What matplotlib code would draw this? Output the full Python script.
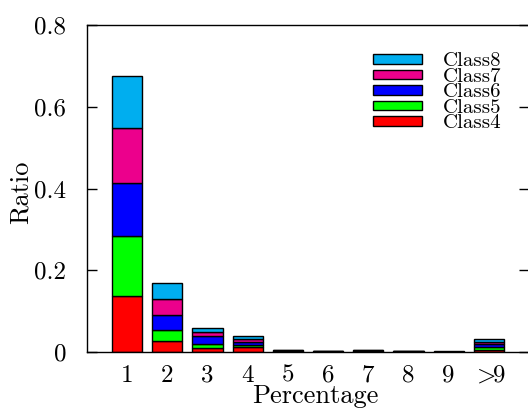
import numpy as np
import matplotlib
matplotlib.use("Agg")
import matplotlib.pyplot as plt
from matplotlib.ticker import FixedLocator, FixedFormatter

plt.rcParams['font.family'] = ['cmr10']
plt.rcParams['mathtext.fontset'] = 'cm'
plt.rcParams['axes.formatter.use_mathtext'] = True

# Percentage buckets on the x axis
categories = ['1', '2', '3', '4', '5', '6', '7', '8', '9', r'$>\!\!9$']

# Ratio contributed by each class within each bucket (stacked bottom to top)
class4 = [0.137, 0.028, 0.009, 0.012, 0.0012, 0.0006, 0.0010, 0.0006, 0.0003, 0.006]
class5 = [0.148, 0.025, 0.010, 0.006, 0.0012, 0.0006, 0.0010, 0.0006, 0.0003, 0.006]
class6 = [0.128, 0.037, 0.020, 0.007, 0.0012, 0.0006, 0.0010, 0.0006, 0.0003, 0.007]
class7 = [0.136, 0.040, 0.010, 0.006, 0.0012, 0.0006, 0.0010, 0.0006, 0.0003, 0.006]
class8 = [0.127, 0.040, 0.010, 0.007, 0.0012, 0.0006, 0.0010, 0.0006, 0.0003, 0.007]

series = [('Class4', class4, '#ff0000'),
          ('Class5', class5, '#00ff00'),
          ('Class6', class6, '#0000ff'),
          ('Class7', class7, '#ec008c'),
          ('Class8', class8, '#00aeef')]

y_ticks = [0, 0.2, 0.4, 0.6, 0.8]
y_tick_labels = ['0', '0.2', '0.4', '0.6', '0.8']

fig = plt.figure(figsize=(5.28, 4.08), dpi=100)
ax = fig.add_axes([87 / 528, 56 / 408, 442 / 528, 327 / 408])

x = np.arange(len(categories))
bottom = np.zeros(len(categories))
handles = []
for name, vals, color in series:
    vals = np.asarray(vals)
    bars = ax.bar(x, vals, width=0.75, bottom=bottom, color=color,
                  edgecolor='black', linewidth=1.0, label=name)
    handles.append(bars)
    bottom = bottom + vals

ax.set_xlim(-1, 10)
ax.set_ylim(0, 0.8)

ax.xaxis.set_major_locator(FixedLocator(x))
ax.xaxis.set_major_formatter(FixedFormatter(categories))
ax.yaxis.set_major_locator(FixedLocator(y_ticks))
ax.yaxis.set_major_formatter(FixedFormatter(y_tick_labels))

ax.tick_params(axis='x', length=0, pad=9, labelsize=18)
ax.tick_params(axis='y', direction='in', length=7, width=1.0,
               left=True, right=True, pad=15, labelsize=18)

for s in ax.spines.values():
    s.set_linewidth(1.0)

ax.set_xlabel('Percentage', fontsize=19)
ax.set_ylabel('Ratio', fontsize=19)
ax.xaxis.set_label_coords(0.517, -0.098)
ax.yaxis.set_label_coords(-0.122, 0.49)

leg = ax.legend(handles[::-1], [h.get_label() for h in handles[::-1]],
                loc='upper left', bbox_to_anchor=(0.647, 0.916),
                frameon=False, fontsize=15, handlelength=2.35,
                handleheight=0.34, handletextpad=1.0, labelspacing=-0.117,
                borderpad=0, borderaxespad=0)

fig.savefig('out.png', dpi=100)
